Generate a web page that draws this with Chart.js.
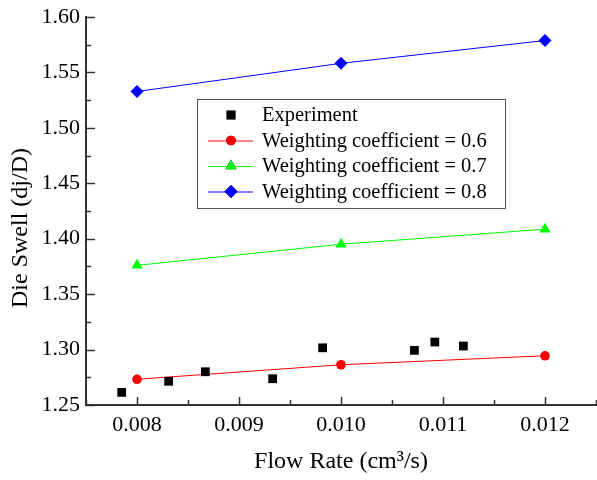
<!DOCTYPE html>
<html>
<head>
<meta charset="utf-8">
<script src="https://cdn.jsdelivr.net/npm/chart.js@4.4.0/dist/chart.umd.min.js"></script>
<style>
  html, body { margin: 0; padding: 0; background: #fff; }
  #wrap { width: 597px; height: 480px; }
</style>
</head>
<body>
<div id="wrap"><canvas id="myChart" width="597" height="480"></canvas></div>
<script>
// valeurs
const expFlow = [0.00785, 0.00831, 0.00867, 0.00933, 0.00982, 0.01072, 0.01092, 0.01120];
const expSwell = [1.2614, 1.2714, 1.2800, 1.2737, 1.3016, 1.2993, 1.3068, 1.3032];

const simFlow = [0.008, 0.010, 0.012];
const swell06 = [1.2732, 1.2863, 1.2944];
const swell07 = [1.3760, 1.3950, 1.4086];
const swell08 = [1.5328, 1.5582, 1.5788];

const labels = ["Experiment", "Weighting coefficient = 0.6", "Weighting coefficient = 0.7", "Weighting coefficient = 0.8"];
const yTitle = "Die Swell (dj/D)";
const xTitle = "Flow Rate (cm³/s)";

const FONT = "'Liberation Serif', 'Times New Roman', serif";

function pts(xs, ys) {
  return xs.map((x, i) => ({ x: x, y: ys[i] }));
}

// ticks vers l'intérieur + titre de l'axe y
const innerTicks = {
  id: "innerTicks",
  afterDraw(chart) {
    const ctx = chart.ctx;
    const xs = chart.scales.x;
    const ys = chart.scales.y;
    ctx.save();
    ctx.strokeStyle = "#333";
    ctx.lineWidth = 1.5;
    xs.ticks.forEach((t) => {
      const px = Math.round(xs.getPixelForValue(t.value)) + 0.5;
      const major = Math.abs(t.value * 1000 - Math.round(t.value * 1000)) < 1e-6;
      const len = major ? 8 : 5;
      ctx.beginPath();
      ctx.moveTo(px, ys.bottom);
      ctx.lineTo(px, ys.bottom - len);
      ctx.stroke();
    });
    ys.ticks.forEach((t) => {
      const py = Math.round(ys.getPixelForValue(t.value)) + 0.5;
      const major = Math.abs(t.value * 20 - Math.round(t.value * 20)) < 1e-6;
      const len = major ? 9 : 5;
      ctx.beginPath();
      ctx.moveTo(xs.left, py);
      ctx.lineTo(xs.left + len, py);
      ctx.stroke();
    });
    ctx.translate(21, 228);
    ctx.rotate(-Math.PI / 2);
    ctx.font = "24px " + FONT;
    ctx.fillStyle = "#000";
    ctx.textAlign = "center";
    ctx.textBaseline = "middle";
    ctx.fillText(yTitle, 0, 0);
    ctx.restore();
  },
};

// légende dans un cadre
const boxLegend = {
  id: "boxLegend",
  afterDraw(chart) {
    const ctx = chart.ctx;
    const left = 197.5, top = 99.5, w = 308, h = 109;
    ctx.save();
    ctx.strokeStyle = "#555";
    ctx.lineWidth = 1;
    ctx.strokeRect(left, top, w, h);
    ctx.font = "20.5px " + FONT;
    ctx.fillStyle = "#000";
    ctx.textBaseline = "middle";
    chart.data.datasets.forEach((ds, i) => {
      const y = 115 + i * 25.5;
      if (ds.showLine) {
        ctx.strokeStyle = ds.borderColor;
        ctx.lineWidth = 1;
        ctx.beginPath();
        ctx.moveTo(208, y + 0.5);
        ctx.lineTo(253, y + 0.5);
        ctx.stroke();
      }
      Chart.helpers.drawPoint(ctx, {
        pointStyle: ds.pointStyle,
        radius: ds.pointRadius,
        rotation: 0,
        borderWidth: 0,
      }, 231, y);
      ctx.fillStyle = ds.pointBackgroundColor;
      ctx.fill();
      ctx.fillStyle = "#000";
      ctx.fillText(ds.label, 262, y + 1);
    });
    ctx.restore();
  },
};

const data = {
  datasets: [
    {
      label: labels[0],
      data: pts(expFlow, expSwell),
      showLine: false,
      pointStyle: "rect",
      pointRadius: 6.2,
      pointBackgroundColor: "#000",
      pointBorderWidth: 0,
      borderColor: "#000",
    },
    {
      label: labels[1],
      data: pts(simFlow, swell06),
      showLine: true,
      borderColor: "#ff0000",
      borderWidth: 1,
      pointStyle: "circle",
      pointRadius: 4.8,
      pointBackgroundColor: "#ff0000",
      pointBorderWidth: 0,
    },
    {
      label: labels[2],
      data: pts(simFlow, swell07),
      showLine: true,
      borderColor: "#00ff00",
      borderWidth: 1,
      pointStyle: "triangle",
      pointRadius: 6.5,
      pointBackgroundColor: "#00ff00",
      pointBorderWidth: 0,
    },
    {
      label: labels[3],
      data: pts(simFlow, swell08),
      showLine: true,
      borderColor: "#0000ff",
      borderWidth: 1,
      pointStyle: "rectRot",
      pointRadius: 6.5,
      pointBackgroundColor: "#0000ff",
      pointBorderWidth: 0,
    },
  ],
};

const config = {
  type: "scatter",
  data: data,
  plugins: [innerTicks, boxLegend],
  options: {
    responsive: false,
    animation: false,
    layout: { autoPadding: false, padding: { top: 17, right: 1, left: 0, bottom: 0 } },
    plugins: {
      legend: { display: false },
      tooltip: { enabled: false },
    },
    scales: {
      x: {
        type: "linear",
        min: 0.0075,
        max: 0.0125,
        afterBuildTicks(scale) {
          const t = [];
          for (let i = 0; i <= 10; i++) t.push({ value: 0.0075 + i * 0.0005 });
          scale.ticks = t;
        },
        afterFit(scale) {
          scale.height = 75;
          scale.paddingLeft = 0;
          scale.paddingRight = 0;
        },
        grid: { display: true, drawOnChartArea: false, drawTicks: false },
        border: { display: true, color: "#333", width: 2 },
        ticks: {
          padding: 7,
          color: "#000",
          font: { family: FONT, size: 22 },
          maxRotation: 0,
          autoSkip: false,
          callback(v) {
            const k = v * 1000;
            return Math.abs(k - Math.round(k)) < 1e-6 ? v.toFixed(3) : "";
          },
        },
        title: {
          display: true,
          text: xTitle,
          color: "#000",
          font: { family: FONT, size: 24 },
          padding: { top: 10 },
        },
      },
      y: {
        min: 1.25,
        max: 1.6,
        afterBuildTicks(scale) {
          const t = [];
          for (let i = 0; i <= 14; i++) t.push({ value: 1.25 + i * 0.025 });
          scale.ticks = t;
        },
        afterFit(scale) {
          scale.width = 86;
          scale.paddingTop = 0;
          scale.paddingBottom = 0;
        },
        grid: { display: true, drawOnChartArea: false, drawTicks: false },
        border: { display: true, color: "#333", width: 2 },
        ticks: {
          padding: 6,
          color: "#000",
          font: { family: FONT, size: 22 },
          autoSkip: false,
          callback(v) {
            const k = v * 20;
            return Math.abs(k - Math.round(k)) < 1e-6 ? v.toFixed(2) : "";
          },
        },
        title: { display: false },
      },
    },
  },
};

const myChart = new Chart(document.getElementById("myChart"), config);
</script>
</body>
</html>
